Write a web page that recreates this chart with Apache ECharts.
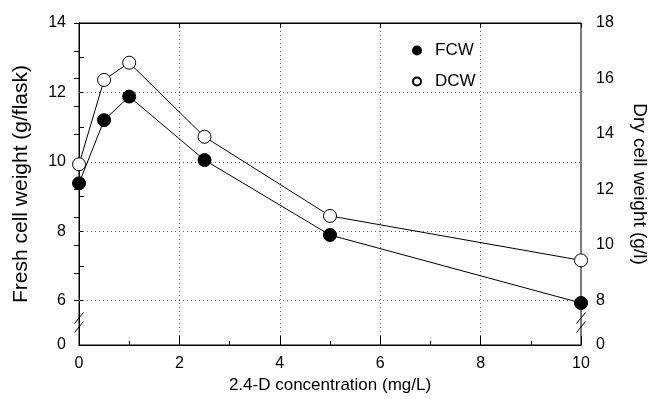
<!DOCTYPE html>
<html>
<head>
<meta charset="utf-8">
<script src="https://cdn.jsdelivr.net/npm/echarts@6/dist/echarts.min.js"></script>
<style>html,body{margin:0;padding:0;background:#fff;}#c{width:649px;height:399px;}</style>
</head>
<body>
<div id="c"></div>
<script>
// ---- data ----
const concentrations = [0, 0.5, 1, 2.5, 5, 10];
const fcw = [9.38, 11.20, 11.88, 10.05, 7.89, 5.93];
const dcw = [12.91, 15.95, 16.57, 13.90, 11.05, 9.45];
const leftTickLabels = [6, 8, 10, 12, 14];
const leftMinorTicks = [6, 7, 8, 9, 10, 11, 12, 13, 14];
const rightTickLabels = [8, 10, 12, 14, 16, 18];
const rightMinorTicks = [8, 9, 10, 11, 12, 13, 14, 15, 16, 17, 18];
const gridValues = [6, 8, 10, 12];
// broken axes: bottom of each y axis is labelled 0
const LEFT_BOTTOM = 4.72;
const RIGHT_BOTTOM = 6.4;

const FONT = 'Liberation Sans, Arial, sans-serif';
const chart = echarts.init(document.getElementById('c'), null, {renderer: 'canvas'});

const axisLine = {show: true, lineStyle: {color: '#000', width: 1}};
const labelStyle = {color: '#000', fontSize: 16, fontFamily: FONT};
const nameStyle = {color: '#000', fontSize: 17, fontFamily: FONT};

chart.setOption({
  animation: false,
  backgroundColor: '#fff',
  grid: {left: 79, right: 68, top: 23, bottom: 54, containLabel: false, outerBoundsMode: 'none',
         show: true, borderColor: '#000', borderWidth: 1, backgroundColor: 'transparent'},
  legend: {
    data: ['FCW', 'DCW'], orient: 'vertical', left: 407, top: 37,
    itemWidth: 8, itemHeight: 8, itemGap: 14, icon: 'circle',
    textStyle: {color: '#000', fontSize: 17, fontFamily: FONT, padding: [0, 0, 0, 9]}
  },
  xAxis: [{
    type: 'value', min: 0, max: 10, interval: 2, position: 'bottom',
    name: '2.4-D concentration (mg/L)', nameLocation: 'middle', nameGap: 31, nameTextStyle: nameStyle,
    axisLine: axisLine,
    axisTick: {show: true, inside: true, length: 9, lineStyle: {color: '#000'}},
    minorTick: {show: true, splitNumber: 2, length: 4, lineStyle: {color: '#000'}},
    axisLabel: Object.assign({margin: 11}, labelStyle),
    splitLine: {show: true, lineStyle: {color: '#666', type: [1, 3], width: 1}}
  }, {
    type: 'value', min: 0, max: 10, interval: 2, position: 'top',
    axisLine: axisLine,
    axisTick: {show: true, inside: true, length: 5, lineStyle: {color: '#000'}},
    axisLabel: {show: false}, splitLine: {show: false}
  }],
  yAxis: [{
    type: 'value', min: LEFT_BOTTOM, max: 14, position: 'left',
    name: 'Fresh cell weight (g/flask)', nameLocation: 'middle', nameGap: 47,
    nameTextStyle: Object.assign({}, nameStyle, {fontSize: 21}),
    axisLine: axisLine,
    axisTick: {show: true, inside: true, length: 5, customValues: leftMinorTicks, lineStyle: {color: '#000'}},
    axisLabel: Object.assign({margin: 13, customValues: [LEFT_BOTTOM].concat(leftTickLabels),
      formatter: v => (v < leftTickLabels[0] ? '0' : String(v))}, labelStyle),
    splitLine: {show: false}
  }, {
    type: 'value', min: RIGHT_BOTTOM, max: 18, position: 'right',
    name: 'Dry cell weight (g/l)', nameLocation: 'middle', nameGap: 49, nameRotate: -90,
    nameTextStyle: Object.assign({}, nameStyle, {fontSize: 19}),
    axisLine: axisLine,
    axisTick: {show: true, inside: true, length: 5, customValues: rightMinorTicks, lineStyle: {color: '#000'}},
    axisLabel: Object.assign({margin: 15, customValues: [RIGHT_BOTTOM].concat(rightTickLabels),
      formatter: v => (v < rightTickLabels[0] ? '0' : String(v))}, labelStyle),
    splitLine: {show: false}
  }],
  series: [{
    name: 'FCW', type: 'line', xAxisIndex: 0, yAxisIndex: 0,
    data: concentrations.map((x, i) => [x, fcw[i]]),
    symbol: 'circle', symbolSize: 13,
    itemStyle: {color: '#000', borderColor: '#000', borderWidth: 1},
    lineStyle: {color: '#000', width: 1}, z: 5,
    markLine: {
      silent: true, symbol: 'none', label: {show: false},
      lineStyle: {color: '#666', type: [1, 3], width: 1},
      data: gridValues.map(v => ({yAxis: v})), z: 1
    }
  }, {
    name: 'DCW', type: 'line', xAxisIndex: 0, yAxisIndex: 1,
    data: concentrations.map((x, i) => [x, dcw[i]]),
    symbol: 'circle', symbolSize: 13,
    itemStyle: {color: '#fff', borderColor: '#000', borderWidth: 1},
    lineStyle: {color: '#000', width: 1}, z: 5
  }]
});

// axis-break marks ("//") on both y axes
const yBottom = chart.convertToPixel({yAxisIndex: 0}, LEFT_BOTTOM);
const xLeft = chart.convertToPixel({xAxisIndex: 0}, 0);
const xRight = chart.convertToPixel({xAxisIndex: 0}, 10);
const marks = [];
[xLeft, xRight].forEach(x => {
  [27, 18].forEach(d => {
    const y = yBottom - d;
    marks.push({type: 'line', shape: {x1: x - 4.5, y1: y + 5.5, x2: x + 4.5, y2: y - 5.5},
      style: {stroke: '#000', lineWidth: 1}, z: 100, silent: true});
  });
});
chart.setOption({graphic: marks});
</script>
</body>
</html>
